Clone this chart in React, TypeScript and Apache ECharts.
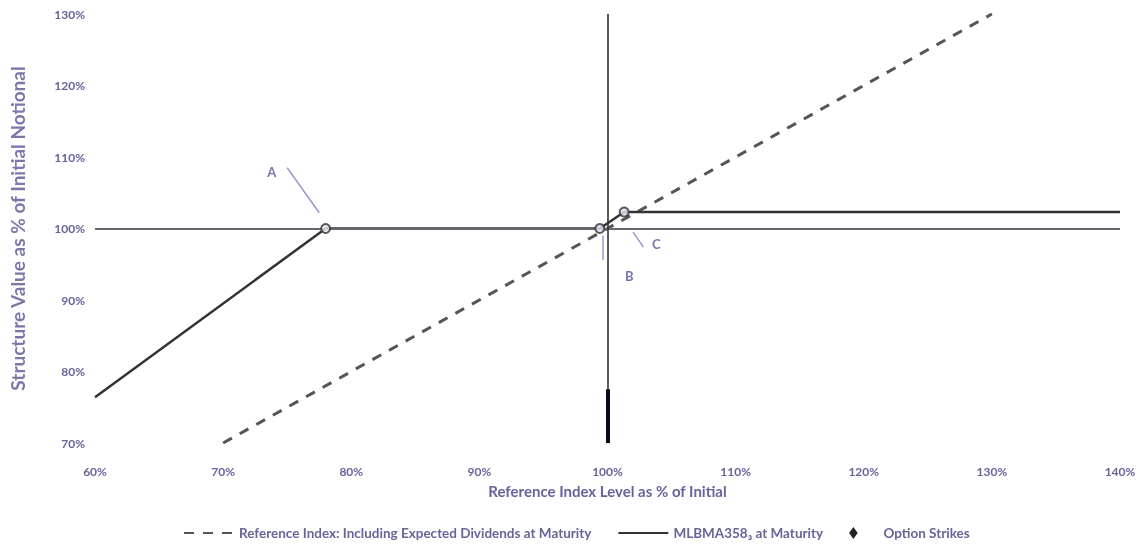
import React, { useEffect, useRef } from "react";
import * as echarts from "echarts";

const referenceLine: [number, number][] = [[70, 70], [130, 130]];
const structureLine: [number, number][] = [
  [60, 76.4], [78, 100], [99.4, 100], [101.3, 102.3], [140, 102.3],
];
const optionStrikes: [number, number][] = [[78, 100], [99.4, 100], [101.3, 102.3]];
const annotationLabels = [
  { name: "A", value: [73.8, 107.9] },
  { name: "B", value: [101.7, 93.4] },
  { name: "C", value: [103.8, 97.9] },
];
const leaderLines: [number, number, number, number][] = [
  [75.0, 108.5, 77.5, 102.2],
  [99.6, 99.0, 99.6, 95.6],
  [102.0, 99.5, 102.8, 97.4],
];
const xTicks = { min: 60, max: 140, interval: 10 };
const yTicks = { min: 70, max: 130, interval: 10 };

const TEXT = "#66649a";
const FONT = "Lato, 'Open Sans', sans-serif";

export default function App() {
  const ref = useRef<HTMLDivElement>(null);
  useEffect(() => {
    if (!ref.current) return;
    const chart = echarts.init(ref.current, undefined, { renderer: "svg" });
    chart.setOption({
      animation: false,
      textStyle: { fontFamily: FONT },
      grid: { left: 92, right: 21, top: 14, bottom: 103 },
      legend: {
        left: 178,
        top: 521,
        itemWidth: 50,
        itemHeight: 12,
        itemGap: 26,
        textStyle: { color: TEXT, fontSize: 13.5, fontWeight: "bold", fontFamily: FONT },
        data: [
          { name: "Reference Index: Including Expected Dividends at Maturity", itemStyle: { opacity: 0 } },
          { name: "MLBMA358₃ at Maturity", itemStyle: { opacity: 0 } },
          {
            name: "Option Strikes",
            icon: "path://M5,0 L10,7 L5,14 L0,7 Z",
            itemStyle: { color: "#222", borderWidth: 0, opacity: 1 },
          },
        ],
      },
      xAxis: {
        type: "value",
        ...xTicks,
        name: "Reference Index Level as % of Initial",
        nameLocation: "middle",
        nameGap: 40,
        nameTextStyle: { color: TEXT, fontSize: 15, fontWeight: "bold" },
        axisLine: { show: false },
        axisTick: { show: false },
        splitLine: { show: false },
        axisLabel: {
          color: TEXT,
          fontSize: 12,
          fontWeight: "bold",
          margin: 22,
          formatter: "{value}%",
        },
      },
      yAxis: {
        type: "value",
        ...yTicks,
        name: "Structure Value as % of Initial Notional",
        nameLocation: "middle",
        nameGap: 68,
        nameTextStyle: { color: "#7a78a8", fontSize: 19, fontWeight: "bold" },
        axisLine: { show: false },
        axisTick: { show: false },
        splitLine: { show: false },
        axisLabel: {
          color: TEXT,
          fontSize: 12,
          fontWeight: "bold",
          margin: 10,
          formatter: "{value}%",
        },
      },
      series: [
        {
          name: "Reference Index: Including Expected Dividends at Maturity",
          type: "line",
          data: referenceLine,
          symbol: "none",
          lineStyle: { color: "#555", width: 3, type: [10, 9] },
          itemStyle: { color: "#555" },
          z: 3,
        },
        {
          name: "MLBMA358₃ at Maturity",
          type: "line",
          data: structureLine,
          symbol: "none",
          lineStyle: { color: "#333", width: 2.5 },
          itemStyle: { color: "#333" },
          z: 4,
          markLine: {
            silent: true,
            symbol: "none",
            label: { show: false },
            data: [
              { yAxis: 100, lineStyle: { color: "#66666f", width: 2, type: "solid" } },
              { xAxis: 100, lineStyle: { color: "#333", width: 1.6, type: "solid" } },
              [
                { coord: [100, 70], lineStyle: { color: "#0a0a1a", width: 4, type: "solid" } },
                { coord: [100, 77.5] },
              ],
            ],
          },
        },
        {
          name: "Option Strikes",
          type: "scatter",
          data: optionStrikes,
          symbol: "circle",
          symbolSize: 9,
          itemStyle: { color: "#e6e4f2", borderColor: "#333", borderWidth: 2 },
          z: 6,
        },
        {
          name: "annotations",
          type: "scatter",
          data: annotationLabels,
          symbolSize: 0,
          silent: true,
          label: {
            show: true,
            position: "inside",
            formatter: "{b}",
            color: "#55539a",
            fontSize: 13,
            fontWeight: "bold",
          },
          z: 7,
          markLine: {
            silent: true,
            symbol: "none",
            label: { show: false },
            lineStyle: { color: "#9a98cc", width: 1.5, type: "solid" },
            data: leaderLines.map(([x1, y1, x2, y2]) => [
              { coord: [x1, y1] },
              { coord: [x2, y2] },
            ]),
          },
        },
      ],
    });
    return () => chart.dispose();
  }, []);
  return (
    <div
      ref={ref}
      style={{ position: "fixed", left: 0, top: 0, width: 1141, height: 546 }}
    />
  );
}
